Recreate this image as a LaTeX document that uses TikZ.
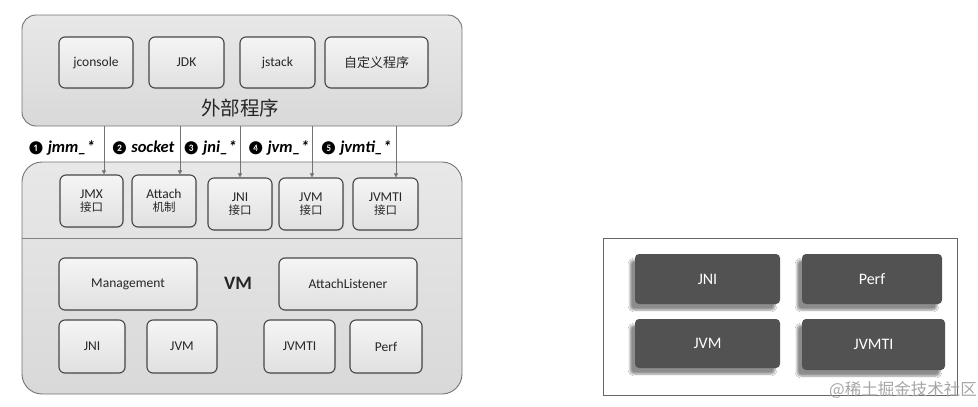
\documentclass[tikz,border=0pt]{standalone}
\usepackage{fontspec}
\setmainfont{Carlito}
\newfontfamily\cjk{Noto Sans CJK SC}
\newfontfamily\dingfont{DejaVu Sans}
\usetikzlibrary{shadows.blur,arrows.meta}
\tikzset{
  outerbox/.style={draw=black!55, line width=0.9pt, top color=gray!18, bottom color=gray!30},
  inbox/.style={draw=black!72, line width=1.1pt, rounded corners=6pt, top color=gray!8, bottom color=gray!24,
     text=black!85, font=\fontsize{13.5}{15}\selectfont, align=center, inner sep=0pt,
     drop shadow={shadow xshift=1pt, shadow yshift=-1pt, fill=black!25}},
  darkbox/.style={fill=black!68, text=white!88, rounded corners=4pt, inner sep=0pt,
     font=\fontsize{16}{18}\selectfont,
     blur shadow={shadow xshift=-5pt, shadow yshift=-6pt, shadow blur steps=6, shadow opacity=45}},
  lbl/.style={font=\fontsize{16.5}{18}\selectfont\bfseries\itshape, inner sep=0pt},
  arr/.style={draw=black!55, line width=0.5pt, -{Triangle[length=4pt,width=4pt]}},
}
\newcommand{\cj}[1]{{\cjk\fontsize{11.5}{14}\selectfont #1}}
\newcommand{\numc}[1]{{\dingfont\normalfont\fontsize{13.5}{14}\selectfont #1}}
\begin{document}
\begin{tikzpicture}[x=1pt,y=-1pt]
\useasboundingbox (0,0) rectangle (978,407);
% upper group
\node[outerbox, rounded corners=14pt, minimum width=440pt, minimum height=111pt, inner sep=0pt] (ext) at (242,70.5) {};
\node[inbox, minimum width=74pt, minimum height=51pt] (jconsole) at (96,62.5) {jconsole};
\node[inbox, minimum width=75pt, minimum height=51pt] (jdk) at (186.5,62.5) {JDK};
\node[inbox, minimum width=75pt, minimum height=51pt] (jstack) at (277.5,62.5) {jstack};
\node[inbox, minimum width=103pt, minimum height=51pt] (custom) at (376.5,62.5) {{\cjk\fontsize{13}{15}\selectfont 自定义程序}};
\node[font=\cjk\fontsize{19.5}{21}\selectfont, text=black!85, inner sep=0pt] (extlbl) at (240,108) {外部程序};
% lower group
\node[outerbox, rounded corners=20pt, minimum width=440pt, minimum height=232pt, inner sep=0pt] (vmbox) at (242,278) {};
\draw[black!50, line width=0.6pt] (vmbox.west |- 0,238) coordinate (dl) -- (vmbox.east |- 0,238) coordinate (dr);
\node[inbox, minimum width=63pt, minimum height=52pt] (jmx) at (91.5,201) {JMX\\[-2pt]\cj{接口}};
\node[inbox, minimum width=64pt, minimum height=52pt] (attach) at (164,201) {Attach\\[-2pt]\cj{机制}};
\node[inbox, minimum width=64pt, minimum height=52pt] (jniif) at (240,204) {JNI\\[-2pt]\cj{接口}};
\node[inbox, minimum width=64pt, minimum height=52pt] (jvmif) at (311,204) {JVM\\[-2pt]\cj{接口}};
\node[inbox, minimum width=65pt, minimum height=52pt] (jvmtiif) at (385.5,204) {JVMTI\\[-2pt]\cj{接口}};
\node[inbox, minimum width=138pt, minimum height=52pt] (mgmt) at (128,284) {Management};
\node[font=\fontsize{19}{21}\selectfont\bfseries, text=black!85, inner sep=0pt] (vm) at (238,283) {VM};
\node[inbox, minimum width=138pt, minimum height=52pt] (al) at (348,284) {AttachListener};
\node[inbox, minimum width=66pt, minimum height=53pt] (jni) at (92,346.5) {JNI};
\node[inbox, minimum width=70pt, minimum height=53pt] (jvm) at (182,346.5) {JVM};
\node[inbox, minimum width=71pt, minimum height=53pt] (jvmti) at (299.5,346.5) {JVMTI};
\node[inbox, minimum width=72pt, minimum height=53pt] (perf) at (386,346.5) {Perf};
% arrows
\foreach \x/\t/\n in {104/jmx/a1, 180/attach/a2, 240/jniif/a3, 312/jvmif/a4, 396/jvmtiif/a5}{
  \coordinate (\n) at (\x,126);
  \draw[arr] (\n) -- (\n |- \t.north);
}
% labels
\node[lbl] (l1) at (61,148) {\numc{❶}\,jmm\_*};
\node[lbl] (l2) at (142.5,148) {\numc{❷}\,socket};
\node[lbl] (l3) at (209.5,148) {\numc{❸}\,jni\_*};
\node[lbl] (l4) at (278,148) {\numc{❹}\,jvm\_*};
\node[lbl] (l5) at (355.5,148) {\numc{❺}\,jvmti\_*};
% right panel
\node[draw=black!60, line width=0.7pt, fill=white, minimum width=354pt, minimum height=157pt, inner sep=0pt] (frame) at (780,316.5) {};
\node[darkbox, minimum width=145pt, minimum height=50pt] (rjni) at (707.5,279) {JNI};
\node[darkbox, minimum width=140pt, minimum height=50pt] (rperf) at (872,279) {Perf};
\node[darkbox, minimum width=145pt, minimum height=49pt] (rjvm) at (707.5,343.5) {JVM};
\node[darkbox, minimum width=143pt, minimum height=51pt] (rjvmti) at (873.5,344.5) {JVMTI};
\node[anchor=east, text=black!35, font=\cjk\fontsize{16.5}{18}\selectfont, inner sep=0pt] (wm) at (977,390) {@稀土掘金技术社区};
\end{tikzpicture}
\end{document}
